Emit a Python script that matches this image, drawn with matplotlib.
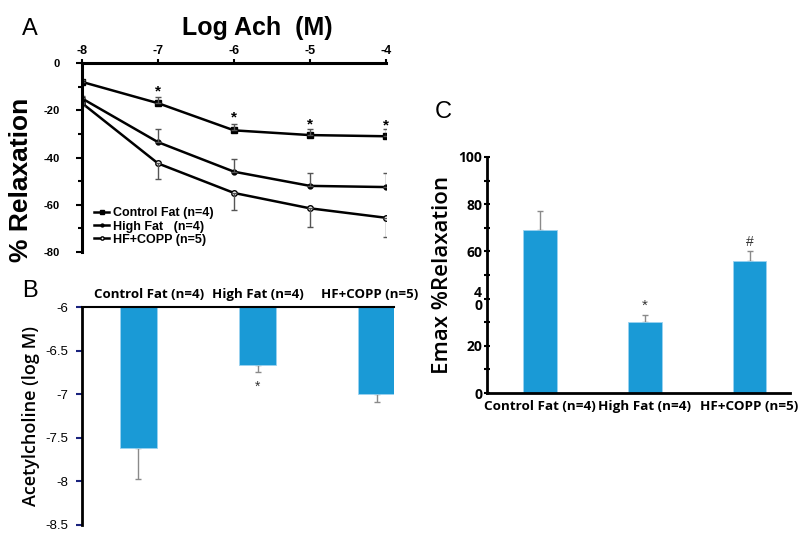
import numpy as np
import matplotlib
matplotlib.use('Agg')
import matplotlib.pyplot as plt

# panel A: concentration-response
log_ach = [-8, -7, -6, -5, -4]
control_fat = [-17, -42.5, -55, -61.5, -65.5]
control_err = [1, 6.5, 7, 8, 8]
high_fat = [-8, -17, -28.5, -30.5, -31]
high_err = [1, 2.5, 2.5, 2.5, 3]
hf_copp = [-15, -33.5, -46, -52, -52.5]
copp_err = [1, 5.5, 5.5, 5.5, 6]
star_a = [-7, -6, -5, -4]
star_a_y = [-12, -23, -26, -26.5]

# panel B / C: group bars
groups = ['Control Fat (n=4)', 'High Fat (n=4)', 'HF+COPP (n=5)']
ec50 = [-7.62, -6.67, -7.0]
ec50_err = [0.35, 0.08, 0.09]
emax = [69, 30, 56]
emax_err = [8, 3, 4]

bar_col = '#1a9ad6'
err_col = '#8a8a8a'

plt.rcParams['font.family'] = ['Liberation Sans', 'DejaVu Sans']

fig = plt.figure(figsize=(8.09, 5.34), dpi=100)

# ---- A ----
ax = fig.add_axes([0.1014, 0.528, 0.3758, 0.354])
ax.plot(log_ach, high_fat, '-s', color='black', lw=1.8, ms=4, mfc='black', label='Control Fat (n=4)')
ax.plot(log_ach, hf_copp, '-o', color='black', lw=1.8, ms=3.5, mfc='black', label='High Fat   (n=4)')
ax.plot(log_ach, control_fat, '-o', color='black', lw=1.8, ms=4, mfc='white', label='HF+COPP (n=5)')
ax.errorbar(log_ach, high_fat, yerr=[np.zeros(5), high_err], fmt='none', ecolor='#555555', elinewidth=1, capsize=2)
ax.errorbar(log_ach, hf_copp, yerr=[np.zeros(5), copp_err], fmt='none', ecolor='#555555', elinewidth=1, capsize=2)
ax.errorbar(log_ach, control_fat, yerr=[control_err, np.zeros(5)], fmt='none', ecolor='#555555', elinewidth=1, capsize=2)
for x, y in zip(star_a, star_a_y):
    ax.text(x, y, '*', ha='center', va='center', fontsize=11, fontweight='bold')
ax.set_xlim(-8, -4)
ax.set_ylim(-80, 0)
ax.spines['right'].set_visible(False)
ax.spines['bottom'].set_visible(False)
ax.spines['top'].set_linewidth(2.2)
ax.spines['left'].set_linewidth(2.2)
ax.xaxis.tick_top()
ax.set_xticks(log_ach)
ax.set_xticklabels(['-8', '-7', '-6', '-5', '-4'], fontsize=9, fontweight='bold')
ax.set_yticks([0, -20, -40, -60, -80])
ax.set_yticklabels(['0', '-20', '-40', '-60', '-80'], fontsize=8, fontweight='bold')
ax.set_yticks([-10, -30, -50, -70], minor=True)
ax.tick_params(axis='both', which='both', direction='out', width=1.5, pad=1)
ax.tick_params(axis='y', which='major', length=4, pad=12)
ax.tick_params(axis='y', which='minor', length=3)
ax.tick_params(axis='x', length=3)
ax.set_ylabel('% Relaxation', fontsize=19, fontweight='bold', labelpad=4)
ax.yaxis.set_label_coords(-0.16, 0.38)
leg = ax.legend(loc='lower left', bbox_to_anchor=(0.02, 0.0), frameon=False,
                prop={'weight': 'bold', 'size': 9}, handlelength=1.2, handletextpad=0.3,
                labelspacing=0.1, markerscale=0.6, borderaxespad=0.1)
fig.text(0.318, 0.948, 'Log Ach  (M)', fontsize=18, fontweight='bold', ha='center', va='center')

# ---- B ----
bx = fig.add_axes([0.1014, 0.0169, 0.386, 0.408])
xb = np.arange(3)
bx.bar(xb, np.array(ec50) + 6, bottom=-6, width=0.31, color=bar_col, edgecolor='#9bd3f0', lw=0.6, zorder=2)
bx.errorbar(xb, ec50, yerr=[ec50_err, np.zeros(3)], fmt='none', ecolor=err_col, elinewidth=1, capsize=2, zorder=1)
bx.text(1, -6.92, '*', ha='center', va='center', fontsize=10, color='#333333')
bx.set_xlim(-0.472, 2.146)
bx.set_ylim(-8.5, -6)
bx.spines['right'].set_visible(False)
bx.spines['bottom'].set_visible(False)
bx.spines['left'].set_linewidth(2)
bx.spines['top'].set_linewidth(1.5)
bx.set_xticks([])
bx.set_yticks([-6, -6.5, -7, -7.5, -8, -8.5])
bx.set_yticklabels(['-6', '-6.5', '-7', '-7.5', '-8', '-8.5'], fontsize=9.5)
bx.tick_params(axis='y', direction='out', length=4, width=1.5, color='#1a237e', pad=6)
for xi, g in zip([0.09, 1.0, 1.94], groups):
    bx.text(xi, -5.93, g, ha='center', va='bottom', fontsize=9.5, fontweight='bold', family='Open Sans')
bx.set_ylabel('Acetylcholine (log M)', fontsize=13, fontweight='semibold', family='Open Sans', labelpad=4)

# ---- C ----
cx = fig.add_axes([0.602, 0.264, 0.375, 0.442])
xc = np.arange(3)
cx.bar(xc, emax, width=0.32, color=bar_col, edgecolor='#9bd3f0', lw=0.6, zorder=2)
cx.errorbar(xc, emax, yerr=[np.zeros(3), emax_err], fmt='none', ecolor=err_col, elinewidth=1, capsize=2, zorder=1)
cx.text(1, 37, '*', ha='center', va='center', fontsize=11, color='#333333')
cx.text(2, 64, '#', ha='center', va='center', fontsize=10, color='#333333')
cx.set_xlim(-0.507, 2.39)
cx.set_ylim(0, 100)
cx.spines['right'].set_visible(False)
cx.spines['top'].set_visible(False)
cx.spines['left'].set_linewidth(2)
cx.spines['bottom'].set_linewidth(2)
cx.set_xticks(xc)
cx.set_xticklabels(groups, fontsize=9.7, fontweight='bold', family='Open Sans')
cx.tick_params(axis='x', length=0, pad=5)
cx.set_yticks([0, 20, 40, 60, 80, 100])
cx.set_yticklabels(['0', '20', '4\n0', '60', '80', '100'], fontsize=10, fontweight='bold', family='Open Sans', linespacing=0.9)
cx.set_yticks([10, 30, 50, 70, 90], minor=True)
cx.tick_params(axis='y', which='both', direction='inout', length=5, width=1.5, pad=1)
cx.set_ylabel('Emax %Relaxation', fontsize=16, fontweight='semibold', family='Open Sans', labelpad=4)

fig.text(0.027, 0.945, 'A', fontsize=17, va='center', ha='left')
fig.text(0.027, 0.455, 'B', fontsize=17, va='center', ha='left')
fig.text(0.537, 0.79, 'C', fontsize=17, va='center', ha='left')

fig.savefig('out.png', dpi=100)
